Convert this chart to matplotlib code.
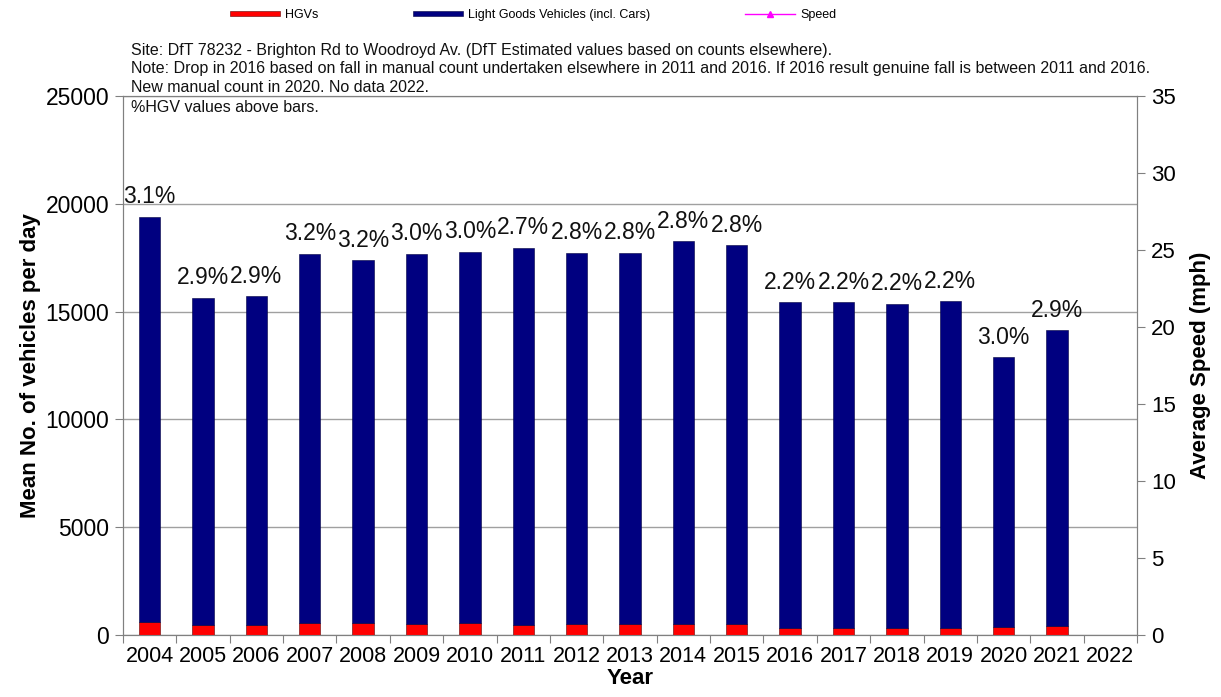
import matplotlib
matplotlib.use('Agg')
import matplotlib.pyplot as plt
import matplotlib.font_manager as fm
import numpy as np

plt.rcParams['font.family'] = ['Liberation Sans', 'DejaVu Sans']

# Traffic counts, site DfT 78232
years = ['2004', '2005', '2006', '2007', '2008', '2009', '2010', '2011', '2012', '2013',
         '2014', '2015', '2016', '2017', '2018', '2019', '2020', '2021', '2022']
total = [19400, 15650, 15720, 17680, 17380, 17690, 17780, 17960, 17740, 17740,
         18280, 18090, 15450, 15450, 15370, 15480, 12880, 14150, np.nan]
hgv_pct = [3.1, 2.9, 2.9, 3.2, 3.2, 3.0, 3.0, 2.7, 2.8, 2.8,
           2.8, 2.8, 2.2, 2.2, 2.2, 2.2, 3.0, 2.9, np.nan]
speed = [np.nan] * len(years)

total = np.array(total)
hgv = total * np.array(hgv_pct) / 100.0
lgv = total - hgv

notes = ['Site: DfT 78232 - Brighton Rd to Woodroyd Av. (DfT Estimated values based on counts elsewhere).',
         'Note: Drop in 2016 based on fall in manual count undertaken elsewhere in 2011 and 2016. If 2016 result genuine fall is between 2011 and 2016.',
         'New manual count in 2020. No data 2022.',
         '%HGV values above bars.']

W, H = 1221, 697
fig = plt.figure(figsize=(W / 100, H / 100), dpi=100)
ax = fig.add_axes([123 / W, (H - 635) / H, (1137 - 123) / W, (635 - 96) / H])
ax2 = ax.twinx()

x = np.arange(len(years))
grey = '#808080'

b1 = ax.bar(x, hgv, width=0.4, color='#ff0000', edgecolor='#600000', linewidth=0.4, zorder=3)
b2 = ax.bar(x, lgv, bottom=hgv, width=0.4, color='#000080', edgecolor='#000040', linewidth=0.4, zorder=3)
l1, = ax2.plot(x, speed, color='#ff00ff', marker='^', markersize=5, linewidth=1)

for xi, t, p in zip(x, total, hgv_pct):
    if np.isnan(t):
        continue
    ax.annotate(f'{p:.1f}%', (xi, t), xytext=(0, 6), textcoords='offset points',
                ha='center', va='bottom', fontsize=16.5, color='#111111', zorder=4)

ax.set_xlim(-0.5, len(years) - 0.5)
ax.set_ylim(0, 25000)
ax.set_yticks(np.arange(0, 25001, 5000))
ax2.set_ylim(0, 35)
ax2.set_yticks(np.arange(0, 36, 5))

ax.set_xticks(np.arange(-0.5, len(years), 1.0))
ax.set_xticklabels([])
ax.set_xticks(x, minor=True)
ax.set_xticklabels(years, minor=True, fontsize=15.5)
ax.tick_params(axis='x', which='major', direction='out', length=6, color=grey)
ax.tick_params(axis='x', which='minor', length=0, pad=8)
ax.tick_params(axis='y', direction='out', length=6, color=grey, labelsize=16.5, pad=4)
ax2.tick_params(axis='y', direction='out', length=6, color=grey, labelsize=16, pad=4)

ax.grid(axis='y', color='#a0a0a0', linewidth=1, zorder=0)
for a in (ax, ax2):
    for s in a.spines.values():
        s.set_color(grey)

ax.set_ylabel('Mean No. of vehicles per day', fontsize=16, fontweight='bold', labelpad=3)
ax2.set_ylabel('Average Speed (mph)', fontsize=16, fontweight='bold', labelpad=10)
ax.set_xlabel('Year', fontsize=16, fontweight='bold', labelpad=1)

# note block: narrow face if present, size chosen so the long line spans ~1024 px
names = {f.name for f in fm.fontManager.ttflist}
note_family = 'Liberation Sans Narrow' if 'Liberation Sans Narrow' in names else 'Liberation Sans'
renderer = fig.canvas.get_renderer()
probe = fig.text(0, 0, notes[1], fontsize=12, family=note_family)
w = probe.get_window_extent(renderer).width
probe.remove()
note_size = 12 * 1024 / w
for i, line in enumerate(notes):
    fig.text(131 / W, 1 - (50 + 19 * i) / H, line, fontsize=note_size,
             family=note_family, va='center', ha='left', color='#111111')

fig.legend([b1, b2, l1], ['HGVs', 'Light Goods Vehicles (incl. Cars)', 'Speed'],
           loc='center', bbox_to_anchor=(533 / W, 1 - 15 / H), ncol=3, frameon=False,
           fontsize=9, handlelength=4.0, handleheight=0.35, columnspacing=7.6,
           handletextpad=0.4)

fig.savefig('out.png', dpi=100)
